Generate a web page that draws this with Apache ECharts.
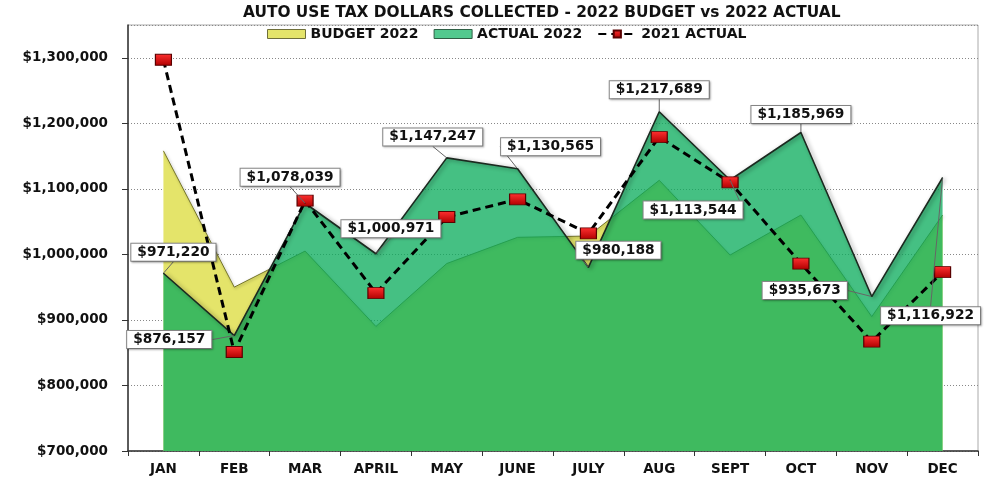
<!DOCTYPE html>
<html>
<head>
<meta charset="utf-8">
<script src="https://cdn.jsdelivr.net/npm/echarts@6/dist/echarts.min.js"></script>
<style>
  html, body { margin: 0; padding: 0; background: #fff; }
  #chart { width: 984px; height: 479px; }
</style>
</head>
<body>
<div id="chart"></div>
<script>
const months = ['JAN', 'FEB', 'MAR', 'APRIL', 'MAY', 'JUNE', 'JULY', 'AUG', 'SEPT', 'OCT', 'NOV', 'DEC'];
const budget2022 = [1158000, 950000, 1005000, 890000, 986000, 1026000, 1028000, 1113000, 999000, 1060000, 905000, 1060000];
const actual2022 = [971220, 876157, 1078039, 1000971, 1147247, 1130565, 980188, 1217689, 1113544, 1185969, 935673, 1116922];
const actual2021 = [1297000, 851000, 1082000, 941000, 1057000, 1084000, 1032000, 1179000, 1110000, 986000, 867000, 973000];

// where each value callout sits, relative to its point
const labelShift = [[10, -21], [-65, 4], [-15, -26], [15, -25], [-14, -21], [33, -22],
  [30, -17], [0, -22], [-37, 30], [0, -18], [-67, -6], [-12, 138]];

const FONT = 'DejaVu Sans';

function money (v) {
  return '$' + Math.round(v).toString().replace(/\B(?=(\d{3})+(?!\d))/g, ',');
}

let myChart = echarts.init(document.getElementById('chart'));

let option = {
  animation: false,
  backgroundColor: '#fff',
  title: {
    text: 'AUTO USE TAX DOLLARS COLLECTED - 2022 BUDGET vs 2022 ACTUAL',
    left: 243,
    top: 5,
    padding: 0,
    textStyle: {
      fontFamily: FONT,
      fontWeight: 'bold',
      fontSize: 15.4,
      color: '#111'
    }
  },
  legend: {
    left: 267,
    top: 27,
    padding: 0,
    itemWidth: 38,
    itemHeight: 9,
    itemGap: 15,
    textStyle: {
      fontFamily: FONT,
      fontWeight: 'bold',
      fontSize: 14,
      color: '#111'
    },
    data: [{
      name: 'BUDGET 2022',
      icon: 'rect',
      itemStyle: {color: '#e4e46a', borderColor: '#6f6f3a', borderWidth: 1}
    }, {
      name: 'ACTUAL 2022',
      icon: 'rect',
      itemStyle: {color: '#52c98e', borderColor: '#2f5f45', borderWidth: 1}
    }, {
      name: '2021 ACTUAL'
    }]
  },
  grid: {
    left: 128,
    right: 6,
    top: 25,
    bottom: 28,
    show: true,
    borderColor: '#aaa',
    borderWidth: 1
  },
  xAxis: {
    type: 'category',
    data: months,
    boundaryGap: true,
    axisLine: {lineStyle: {color: '#333', width: 1.5}},
    axisTick: {show: true, length: 5, lineStyle: {color: '#333'}},
    axisLabel: {
      margin: 11,
      fontFamily: FONT,
      fontWeight: 'bold',
      fontSize: 13.5,
      color: '#111'
    }
  },
  yAxis: {
    type: 'value',
    min: 700000,
    max: 1350000,
    interval: 100000,
    axisLine: {show: true, lineStyle: {color: '#333', width: 1.5}},
    axisTick: {show: true, length: 6, lineStyle: {color: '#333'}},
    axisLabel: {
      margin: 20,
      showMaxLabel: false,
      fontFamily: FONT,
      fontWeight: 'bold',
      fontSize: 13.5,
      color: '#111',
      formatter: function (v) {
        return v > 1300000 ? '' : money(v);
      }
    },
    splitLine: {
      lineStyle: {color: '#888', type: [1, 2], width: 1}
    }
  },
  series: [{
    name: 'BUDGET 2022',
    type: 'line',
    data: budget2022,
    symbol: 'none',
    z: 2,
    lineStyle: {
      color: '#75752a',
      width: 1,
      shadowBlur: 3,
      shadowColor: 'rgba(0,0,0,0.35)',
      shadowOffsetX: 1,
      shadowOffsetY: 1
    },
    itemStyle: {color: '#e4e46a'},
    areaStyle: {color: '#e4e46a', opacity: 1}
  }, {
    name: 'ACTUAL 2022',
    type: 'line',
    data: actual2022,
    z: 3,
    symbol: 'none',
    lineStyle: {
      color: '#1c2a20',
      width: 1.6,
      shadowBlur: 4,
      shadowColor: 'rgba(0,0,0,0.45)',
      shadowOffsetX: 2,
      shadowOffsetY: 1
    },
    itemStyle: {color: '#1c2a20'},
    areaStyle: {color: 'rgba(10,172,92,0.76)', opacity: 1}
  }, {
    name: '2021 ACTUAL',
    type: 'line',
    data: actual2021,
    z: 4,
    symbol: 'rect',
    symbolSize: [16, 11],
    lineStyle: {color: '#000', width: 3, type: [8, 5]},
    itemStyle: {
      color: {
        type: 'linear', x: 0, y: 0, x2: 0, y2: 1,
        colorStops: [{offset: 0, color: '#ff3030'}, {offset: 1, color: '#b00000'}]
      },
      borderColor: '#5a0000',
      borderWidth: 1
    }
  }, {
    // value callouts of the 2022 actuals, kept above the dashed line
    name: 'ACTUAL 2022',
    type: 'line',
    data: actual2022,
    z: 6,
    symbol: 'circle',
    symbolSize: 1,
    lineStyle: {opacity: 0},
    itemStyle: {color: '#1c2a20'},
    label: {
      show: true,
      position: 'inside',
      formatter: function (p) {
        return money(p.value);
      },
      fontFamily: FONT,
      fontWeight: 'bold',
      fontSize: 13.75,
      color: '#111',
      backgroundColor: '#fff',
      borderColor: '#888',
      borderWidth: 1,
      padding: [2, 6, 1, 6],
      shadowColor: 'rgba(0,0,0,0.25)',
      shadowBlur: 2,
      shadowOffsetX: 1,
      shadowOffsetY: 1
    },
    labelLine: {
      show: true,
      lineStyle: {color: '#666', width: 1}
    },
    labelLayout: function (params) {
      let s = labelShift[params.dataIndex];

      return {dx: s[0], dy: s[1]};
    }
  }]
};

myChart.setOption(option);
</script>
</body>
</html>
